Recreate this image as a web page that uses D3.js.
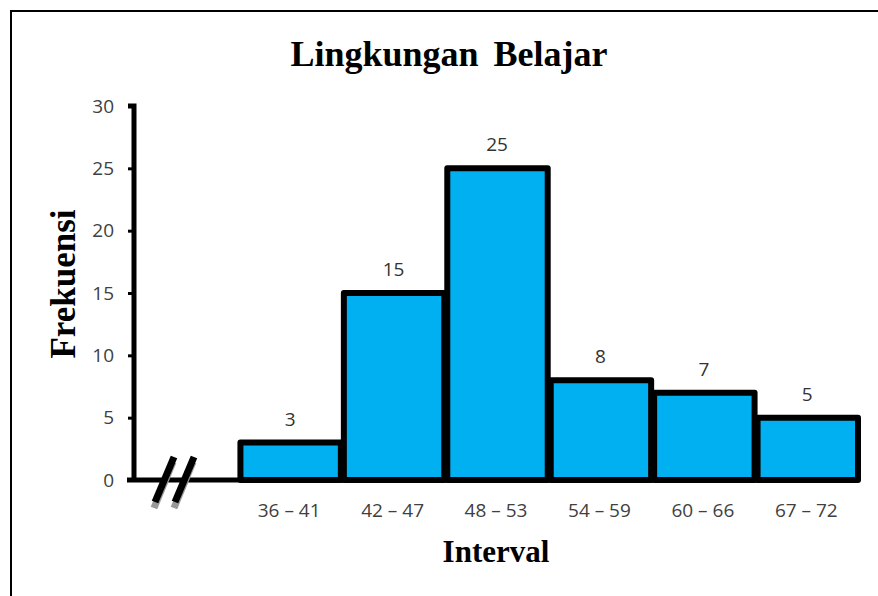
<!DOCTYPE html>
<html>
<head>
<meta charset="utf-8">
<script src="https://cdn.jsdelivr.net/npm/d3@7"></script>
<style>
  body { margin: 0; background: #fff; }
  svg { display: block; }
</style>
</head>
<body>
<script>
const intervals = ["36 – 41", "42 – 47", "48 – 53", "54 – 59", "60 – 66", "67 – 72"];
const frequencies = [3, 15, 25, 8, 7, 5];
const yTicks = [0, 5, 10, 15, 20, 25, 30];

const w = 878, h = 596;
const svg = d3.select("body").append("svg")
              .attr("width", w)
              .attr("height", h);

// frame (left + top only are visible)
svg.append("path")
   .attr("d", `M11,${h} L11,11 L${w},11`)
   .attr("fill", "none")
   .attr("stroke", "#000")
   .attr("stroke-width", 2);

const axisX = 134, right = 858;
// first band left empty for the axis break
const x = d3.scaleBand()
            .domain(["__break"].concat(intervals))
            .range([axisX, right])
            .padding(0);
const y = d3.scaleLinear()
            .domain([0, 30])
            .range([480, 106]);

const tickFont = "'Open Sans', sans-serif";

svg.append("text")
   .attr("x", 449)
   .attr("y", 66)
   .attr("text-anchor", "middle")
   .style("font-family", "'Liberation Serif', serif")
   .style("font-weight", "bold")
   .style("font-size", "36px")
   .style("word-spacing", "6px")
   .text("Lingkungan Belajar");

// bars
const data = intervals.map((d, i) => ({ label: d, value: frequencies[i] }));
svg.selectAll("rect.bar")
   .data(data)
   .enter()
   .append("rect")
   .attr("class", "bar")
   .attr("x", d => x(d.label) + 3)
   .attr("width", x.bandwidth() - 3)
   .attr("y", d => y(d.value))
   .attr("height", d => y(0) - y(d.value))
   .attr("fill", "#00B0F0")
   .attr("stroke", "#000")
   .attr("stroke-width", 6)
   .attr("stroke-linejoin", "round");

svg.selectAll("text.val")
   .data(data)
   .enter()
   .append("text")
   .attr("class", "val")
   .attr("x", d => x(d.label) + x.bandwidth() / 2 + 1)
   .attr("y", d => y(d.value) - 17)
   .attr("text-anchor", "middle")
   .style("font-family", tickFont)
   .style("font-size", "19px")
   .style("fill", "#333")
   .text(d => d.value);

// y axis
const yAxis = d3.axisLeft(y).tickValues(yTicks).tickSize(6).tickPadding(14);
const gy = svg.append("g")
              .attr("transform", `translate(${axisX},0)`)
              .call(yAxis);
gy.select(".domain").attr("stroke", "#000").attr("stroke-width", 5)
  .attr("d", `M-6,${y(30)}H0V${y(0)}`);
gy.selectAll(".tick line").attr("stroke", "#000").attr("stroke-width", 3);
gy.selectAll(".tick text")
  .style("font-family", tickFont)
  .style("font-size", "19px")
  .style("fill", "#404040");

// x axis
const xAxis = d3.axisBottom(x).tickSize(0).tickPadding(24)
                .tickFormat(d => d === "__break" ? "" : d);
const gx = svg.append("g")
              .attr("transform", `translate(0,${y(0)})`)
              .call(xAxis);
gx.select(".domain").attr("stroke", "#000").attr("stroke-width", 5)
  .attr("d", `M127,0H${right}`);
gx.selectAll(".tick text")
  .style("font-family", tickFont)
  .style("font-size", "19px")
  .style("fill", "#404040");

// axis break marks
const brk = svg.append("g");
[0, 20].forEach(dx => {
  brk.append("line")
     .attr("x1", 174 + dx).attr("y1", 459)
     .attr("x2", 155 + dx).attr("y2", 505)
     .attr("stroke", "#999").attr("stroke-width", 7)
     .attr("transform", "translate(-1,3)");
  brk.append("line")
     .attr("x1", 174 + dx).attr("y1", 457)
     .attr("x2", 155 + dx).attr("y2", 502)
     .attr("stroke", "#000").attr("stroke-width", 7);
});

svg.append("text")
   .attr("transform", "translate(75,284) rotate(-90)")
   .attr("text-anchor", "middle")
   .style("font-family", "'Liberation Serif', serif")
   .style("font-weight", "bold")
   .style("font-size", "35px")
   .text("Frekuensi");

svg.append("text")
   .attr("x", 496)
   .attr("y", 562)
   .attr("text-anchor", "middle")
   .style("font-family", "'Liberation Serif', serif")
   .style("font-weight", "bold")
   .style("font-size", "31px")
   .text("Interval");
</script>
</body>
</html>
